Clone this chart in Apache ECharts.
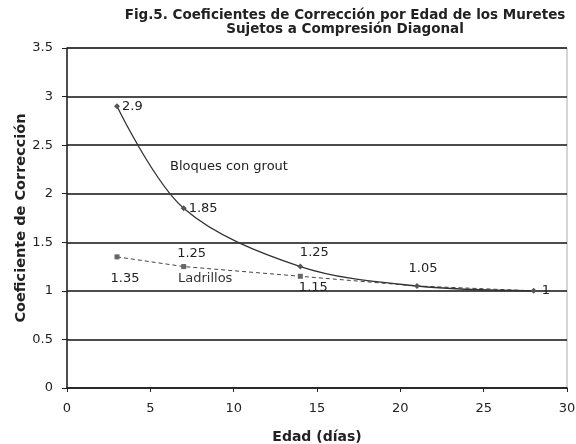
<!DOCTYPE html>
<html><head><meta charset="utf-8">
<script src="https://cdn.jsdelivr.net/npm/echarts@6/dist/echarts.min.js"></script>
<style>html,body{margin:0;padding:0;background:#fff}#c{width:576px;height:444px}</style>
</head><body><div id="c"></div>
<script>
const edad = [3, 7, 14, 21, 28];
const bloques = [2.9, 1.85, 1.25, 1.05, 1];
const ladrillos = [1.35, 1.25, 1.15, 1.05, 1];
const yTicks = [0, 0.5, 1, 1.5, 2, 2.5, 3, 3.5];
const xTicks = [0, 5, 10, 15, 20, 25, 30];

const font = 'DejaVu Sans';
const lblBase = {fontFamily: font, fontSize: 13, color: '#222'};
// label placement per point (styles only)
const bloquesLbl = [
  {position: 'right', distance: 2},
  {position: 'right', distance: 2},
  {position: 'top', distance: 4, offset: [14, 0]},
  {position: 'top', distance: 8, offset: [6, 0]},
  {position: 'right', distance: 5}
];
const ladrillosLbl = [
  {show: true, position: 'bottom', distance: 13, offset: [8, 0]},
  {show: true, position: 'top', distance: 4, offset: [8, 0]},
  {show: true, position: 'bottom', distance: 2, offset: [13, 0]},
  {show: false},
  {show: false}
];

const chart = echarts.init(document.getElementById('c'));
chart.setOption({
  animation: false,
  title: {
    text: 'Fig.5. Coeficientes de Corrección por Edad de los Muretes\nSujetos a Compresión Diagonal',
    left: 340, top: 3, textAlign: 'center',
    textStyle: {fontFamily: 'DejaVu Sans', fontSize: 13.5, fontWeight: 'bold', color: '#222', lineHeight: 14}
  },
  grid: {left: 67, right: 9, top: 48, bottom: 56, show: true, borderColor: '#aaa', borderWidth: 1,
    outerBoundsMode: 'none', containLabel: false},
  xAxis: {
    type: 'value', min: 0, max: 30, interval: 5,
    name: 'Edad (días)', nameLocation: 'middle', nameGap: 42, nameMoveOverlap: false,
    nameTextStyle: {fontFamily: 'DejaVu Sans', fontSize: 14, fontWeight: 'bold', color: '#222'},
    axisLine: {show: true, lineStyle: {color: '#222', width: 1.5}},
    axisTick: {show: true, inside: false, length: 4, lineStyle: {color: '#222'}},
    axisLabel: {fontFamily: font, fontSize: 13, color: '#222', margin: 14,
      formatter: v => xTicks.includes(v) ? String(v) : ''},
    splitLine: {show: false}
  },
  yAxis: {
    type: 'value', min: 0, max: 3.5, interval: 0.5,
    name: 'Coeficiente de Corrección', nameLocation: 'middle', nameGap: 38, nameRotate: 90,
    nameMoveOverlap: false,
    nameTextStyle: {fontFamily: 'DejaVu Sans', fontSize: 14.5, fontWeight: 'bold', color: '#222'},
    axisLine: {show: true, lineStyle: {color: '#222', width: 1.5}},
    axisTick: {show: true, length: 5, lineStyle: {color: '#222'}},
    axisLabel: {fontFamily: font, fontSize: 13, color: '#222', margin: 14,
      formatter: v => yTicks.includes(v) ? String(v) : ''},
    splitLine: {show: true, lineStyle: {color: '#111', width: 1.5}}
  },
  series: [
    {
      name: 'Bloques con grout', type: 'line', smooth: 0.33,
      data: edad.map((x, i) => ({value: [x, bloques[i]], label: bloquesLbl[i]})),
      symbol: 'diamond', symbolSize: 6,
      itemStyle: {color: '#555'},
      lineStyle: {color: '#333', width: 1.3},
      label: Object.assign({show: true, formatter: p => String(p.value[1])}, lblBase),
      z: 3
    },
    {
      name: 'Ladrillos', type: 'line',
      data: edad.map((x, i) => ({value: [x, ladrillos[i]],
        symbol: i < 3 ? 'rect' : 'none', label: ladrillosLbl[i]})),
      symbolSize: 5,
      itemStyle: {color: '#666'},
      lineStyle: {color: '#444', width: 1, type: [4, 3]},
      label: Object.assign({formatter: p => String(p.value[1])}, lblBase),
      z: 2
    }
  ],
  graphic: [
    {type: 'text', left: 170, top: 160, style: {text: 'Bloques con grout', font: '13px "DejaVu Sans"', fill: '#222'}},
    {type: 'text', left: 178, top: 272, style: {text: 'Ladrillos', font: '13px "DejaVu Sans"', fill: '#333'}}
  ]
});
</script></body></html>
